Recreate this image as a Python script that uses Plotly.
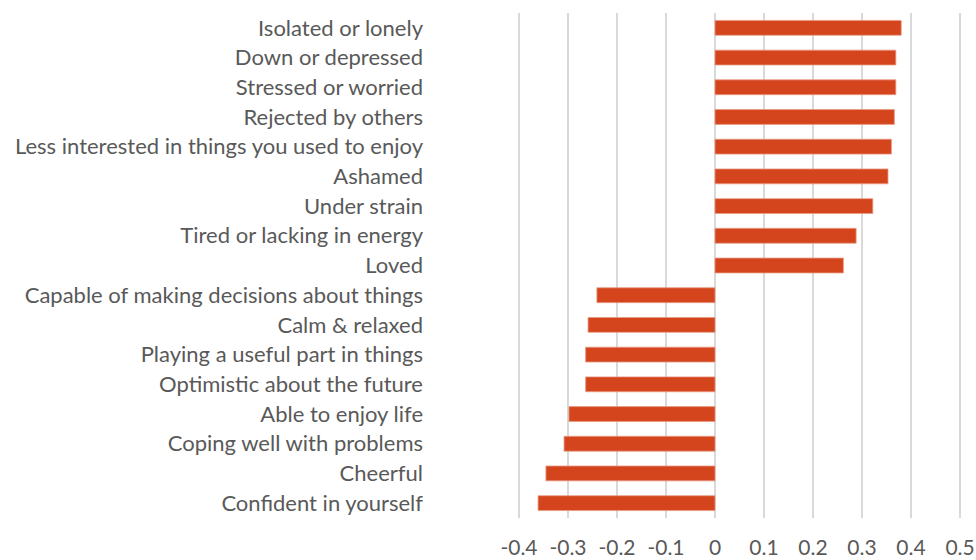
import plotly.graph_objects as go

categories = [
    "Isolated or lonely",
    "Down or depressed",
    "Stressed or worried",
    "Rejected by others",
    "Less interested in things you used to enjoy",
    "Ashamed",
    "Under strain",
    "Tired or lacking in energy",
    "Loved",
    "Capable of making decisions about things",
    "Calm & relaxed",
    "Playing a useful part in things",
    "Optimistic about the future",
    "Able to enjoy life",
    "Coping well with problems",
    "Cheerful",
    "Confident in yourself",
]
values = [0.380, 0.369, 0.369, 0.366, 0.360, 0.353, 0.322, 0.288, 0.262,
          -0.241, -0.259, -0.264, -0.264, -0.298, -0.308, -0.345, -0.361]
x_ticks = [-0.4, -0.3, -0.2, -0.1, 0, 0.1, 0.2, 0.3, 0.4, 0.5]
x_tick_text = ["-0.4", "-0.3", "-0.2", "-0.1", "0", "0.1", "0.2", "0.3", "0.4", "0.5"]

FONT = "Lato, 'Open Sans', sans-serif"
TXT = "#595959"
FS = 22

fig = go.Figure(go.Bar(
    x=values, y=categories, orientation="h",
    marker=dict(color="#D4451D", line=dict(color="#E89A84", width=0.8)),
))

fig.update_layout(
    width=976, height=560,
    margin=dict(l=517, r=14, t=13, b=42, autoexpand=False),
    paper_bgcolor="white", plot_bgcolor="white",
    bargap=0.5,
    showlegend=False,
    font=dict(family=FONT, color=TXT, size=FS),
)
fig.update_xaxes(
    range=[-0.404, 0.504], tickvals=x_ticks, ticktext=x_tick_text,
    showgrid=True, gridcolor="#D9D9D9", gridwidth=1.5,
    zeroline=False, showline=False, ticks="",
    ticklabelstandoff=15,
    tickfont=dict(family=FONT, color=TXT, size=21),
)
fig.update_yaxes(
    categoryorder="array", categoryarray=categories, autorange="reversed",
    showgrid=False, zeroline=False, showline=False, ticks="",
    ticklabelstandoff=93,
    tickfont=dict(family=FONT, color=TXT, size=FS),
)

fig.write_html("out.html",
               config={"displayModeBar": False},
               post_script="document.body.style.margin='0';document.body.style.overflow='hidden';")
